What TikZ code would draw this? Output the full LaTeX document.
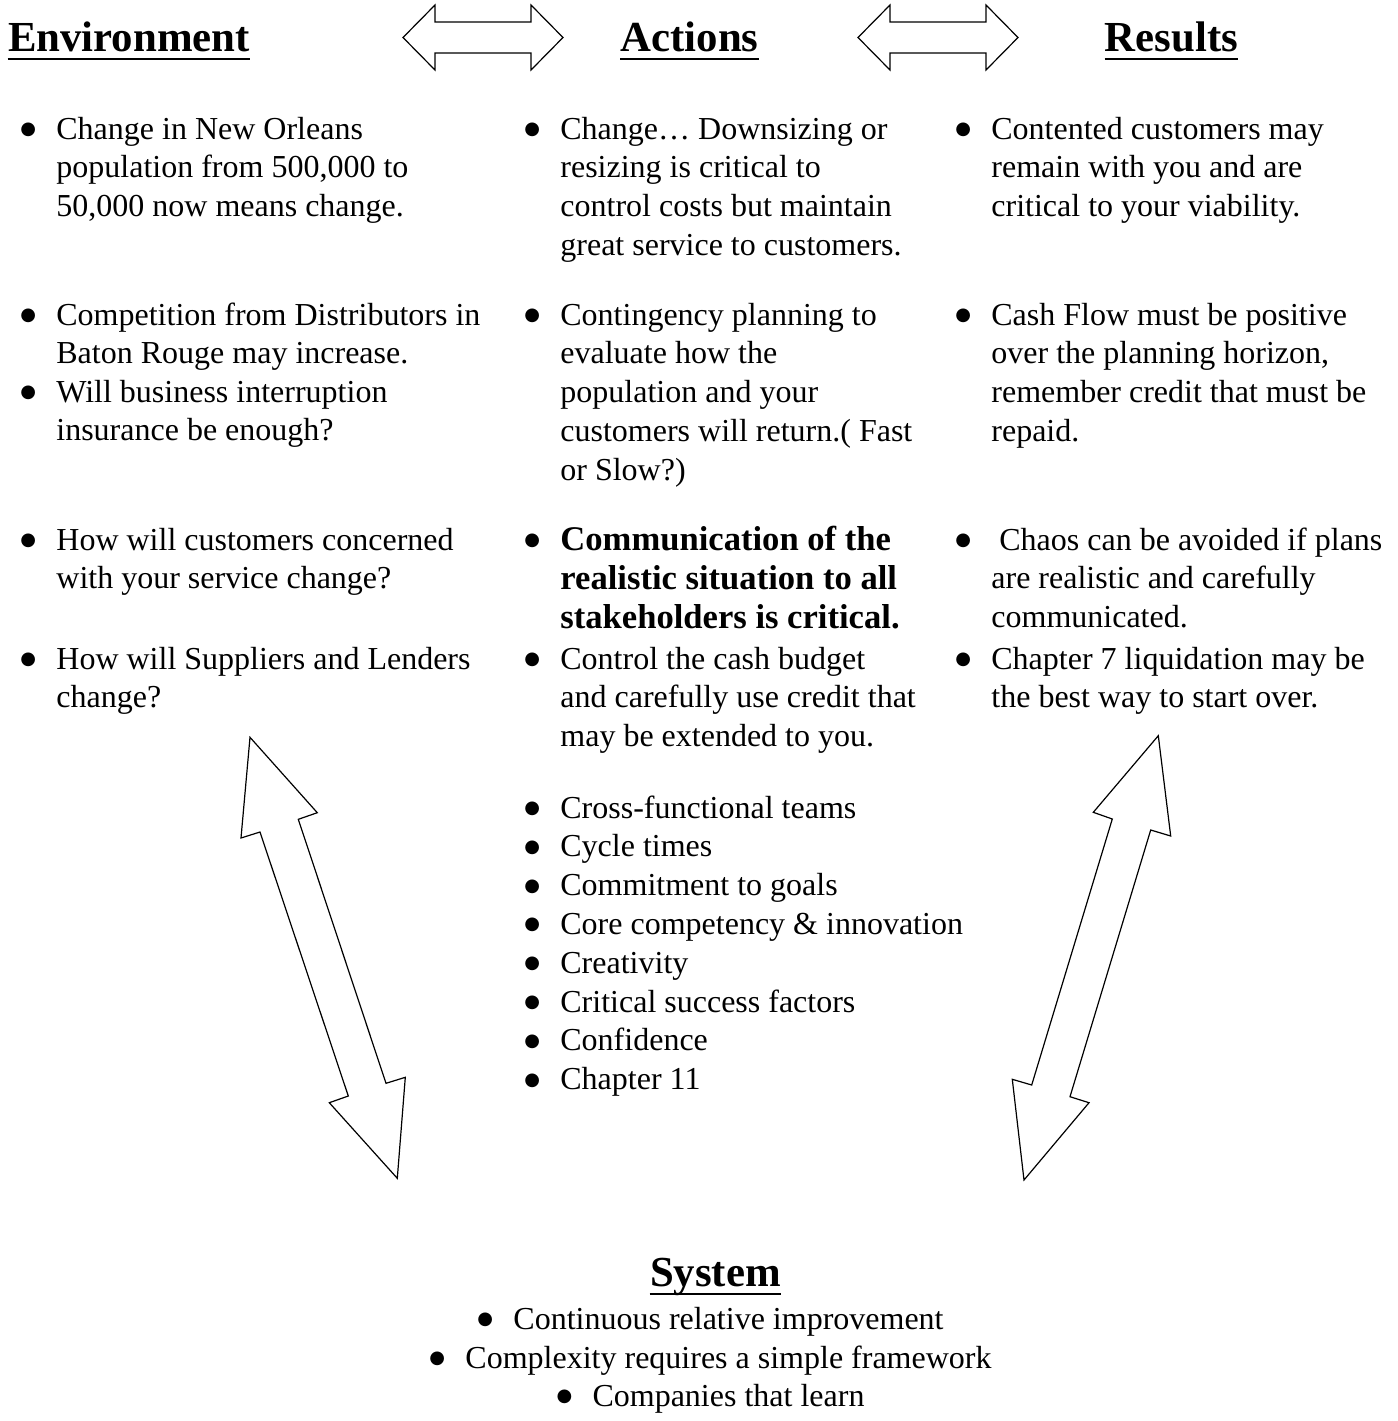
\documentclass[tikz,border=0pt]{standalone}
\usepackage{fontspec}
\setmainfont{Liberation Serif}
\newfontfamily\symfont{DejaVu Sans}

\newcommand{\bul}{\makebox[12.5pt][l]{\hspace{-5.5pt}\raisebox{2.3pt}{\fontsize{9}{9}\symfont ●}}}
\newenvironment{blist}{\begin{tabular}[t]{@{}p{12.5pt}@{}l@{}}}{\end{tabular}}

\tikzset{
  body/.style={inner sep=0pt, anchor=base west, font=\fontsize{16}{19.4}\selectfont},
  boldbody/.style={body, font=\fontsize{17.3}{19.5}\selectfont\bfseries},
  head/.style={inner sep=0pt, anchor=base, font=\fontsize{21.4}{24}\selectfont\bfseries},
  uline/.style={line width=1.3pt},
  fatarrow/.style={draw, line width=0.6pt, line join=miter, fill=white}
}

\begin{document}
\begin{tikzpicture}[x=0.5pt,y=0.5pt]
\useasboundingbox (0,0) rectangle (1398,-1421);

% headings
\node[head] (env) at (129,-51) {Environment};
\node[head] (act) at (689.5,-51) {Actions};
\node[head] (res) at (1171.5,-51) {Results};
\node[head] (sys) at (715.5,-1286) {System};
\foreach \h in {env,act,res,sys}
  \draw[uline] ([yshift=-4pt]\h.base west) -- ([yshift=-4pt]\h.base east);

% arrows between the headings
\foreach \dx in {0,455}
  \draw[fatarrow, shift={(\dx,0)}] (403,-37.5) -- (435,-5) -- (435,-22) -- (531,-22)
    -- (531,-5) -- (563,-37.5) -- (531,-70) -- (531,-53) -- (435,-53) -- (435,-70) -- cycle;

% environment
\node[body] (e1) at (31,-139) {\begin{blist}\bul & Change in New Orleans\\
  & population from 500,000 to\\ & 50,000 now means change.\end{blist}};
\node[body] (e2) at (31,-325) {\begin{blist}\bul & Competition from Distributors in\\
  & Baton Rouge may increase.\end{blist}};
\node[body] (e3) at (31,-402) {\begin{blist}\bul & Will business interruption\\
  & insurance be enough?\end{blist}};
\node[body] (e4) at (31,-550) {\begin{blist}\bul & How will customers concerned\\
  & with your service change?\end{blist}};
\node[body] (e5) at (31,-669) {\begin{blist}\bul & How will Suppliers and Lenders\\
  & change?\end{blist}};

% actions
\node[body] (a1) at (535,-139) {\begin{blist}\bul & Change… Downsizing or\\
  & resizing is critical to\\ & control costs but maintain\\ & great service to customers.\end{blist}};
\node[body] (a2) at (535,-325) {\begin{blist}\bul & Contingency planning to\\
  & evaluate how the\\ & population and your\\ & customers will return.( Fast\\ & or Slow?)\end{blist}};
\node[boldbody] (a3) at (535,-550) {\begin{blist}\bul & Communication of the\\
  & realistic situation to all\\ & stakeholders is critical.\end{blist}};
\node[body] (a4) at (535,-669) {\begin{blist}\bul & Control the cash budget\\
  & and carefully use credit that\\ & may be extended to you.\end{blist}};
\node[body] (a5) at (535,-818) {\begin{blist}\bul & Cross-functional teams\\
  \bul & Cycle times\\ \bul & Commitment to goals\\
  \bul & Core competency \& innovation\\ \bul & Creativity\\
  \bul & Critical success factors\\ \bul & Confidence\\
  \bul & Chapter 11\end{blist}};

% results
\node[body] (r1) at (966,-139) {\begin{blist}\bul & Contented customers may\\
  & remain with you and are\\ & critical to your viability.\end{blist}};
\node[body] (r2) at (966,-325) {\begin{blist}\bul & Cash Flow must be positive\\
  & over the planning horizon,\\ & remember credit that must be\\ & repaid.\end{blist}};
\node[body] (r3) at (966,-550) {\begin{blist}\bul & \ Chaos can be avoided if plans\\
  & are realistic and carefully\\ & communicated.\end{blist}};
\node[body] (r4) at (966,-669) {\begin{blist}\bul & Chapter 7 liquidation may be\\
  & the best way to start over.\end{blist}};

% arrows down to the system
\draw[fatarrow] (250,-737.3) -- (317.3,-812.7) -- (298.3,-819.3) -- (386,-1083.3)
  -- (405.3,-1077.3) -- (397.3,-1178.3) -- (329.3,-1102.7) -- (348.3,-1096)
  -- (260,-832) -- (241,-838) -- cycle;
\draw[fatarrow] (1158.3,-735.7) -- (1170.7,-836) -- (1150.7,-830) -- (1070,-1096.7)
  -- (1089,-1102.7) -- (1024,-1180) -- (1012.3,-1079.3) -- (1031.7,-1085)
  -- (1112.3,-819) -- (1093.3,-812.3) -- cycle;

% system
\node[body, anchor=base] (s1) at (716,-1329) {\bul Continuous relative improvement};
\node[body, anchor=base] (s2) at (716,-1368) {\bul Complexity requires a simple framework};
\node[body, anchor=base] (s3) at (716,-1406) {\bul Companies that learn};

\end{tikzpicture}
\end{document}
